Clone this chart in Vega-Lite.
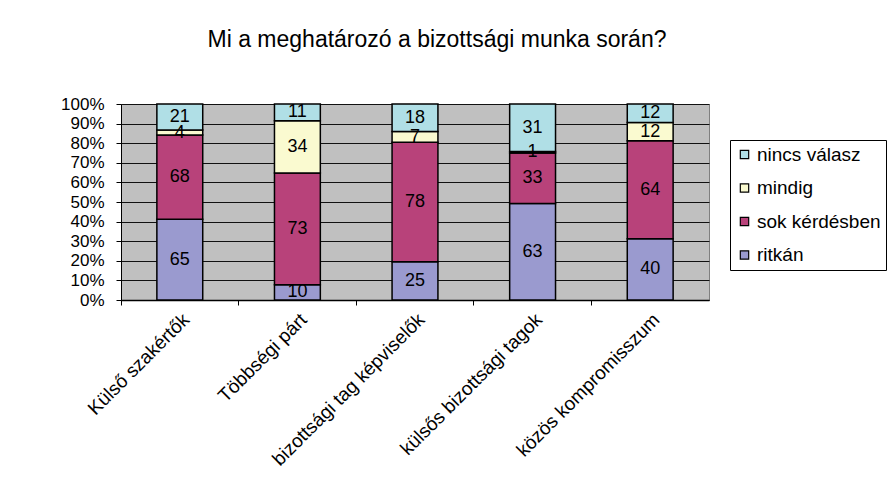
{
  "$schema": "https://vega.github.io/schema/vega-lite/v6.json",
  "width": 588,
  "height": 196,
  "autosize": {"type": "none"},
  "padding": {"left": 121, "top": 104, "right": 178, "bottom": 192},
  "background": "white",
  "title": {
    "text": "Mi a meghatározó a bizottsági munka során?",
    "font": "Liberation Sans",
    "fontSize": 23,
    "fontWeight": "normal",
    "color": "black",
    "anchor": "middle",
    "dx": 22,
    "offset": 43
  },
  "data": {
    "values": [
      {"kategoria": "Külső szakértők", "valasz": "ritkán", "ertek": 65, "o": 1},
      {"kategoria": "Külső szakértők", "valasz": "sok kérdésben", "ertek": 68, "o": 2},
      {"kategoria": "Külső szakértők", "valasz": "mindig", "ertek": 4, "o": 3},
      {"kategoria": "Külső szakértők", "valasz": "nincs válasz", "ertek": 21, "o": 4},
      {"kategoria": "Többségi párt", "valasz": "ritkán", "ertek": 10, "o": 1},
      {"kategoria": "Többségi párt", "valasz": "sok kérdésben", "ertek": 73, "o": 2},
      {"kategoria": "Többségi párt", "valasz": "mindig", "ertek": 34, "o": 3},
      {"kategoria": "Többségi párt", "valasz": "nincs válasz", "ertek": 11, "o": 4},
      {"kategoria": "bizottsági tag képviselők", "valasz": "ritkán", "ertek": 25, "o": 1},
      {"kategoria": "bizottsági tag képviselők", "valasz": "sok kérdésben", "ertek": 78, "o": 2},
      {"kategoria": "bizottsági tag képviselők", "valasz": "mindig", "ertek": 7, "o": 3},
      {"kategoria": "bizottsági tag képviselők", "valasz": "nincs válasz", "ertek": 18, "o": 4},
      {"kategoria": "külsős bizottsági tagok", "valasz": "ritkán", "ertek": 63, "o": 1},
      {"kategoria": "külsős bizottsági tagok", "valasz": "sok kérdésben", "ertek": 33, "o": 2},
      {"kategoria": "külsős bizottsági tagok", "valasz": "mindig", "ertek": 1, "o": 3},
      {"kategoria": "külsős bizottsági tagok", "valasz": "nincs válasz", "ertek": 31, "o": 4},
      {"kategoria": "közös kompromisszum", "valasz": "ritkán", "ertek": 40, "o": 1},
      {"kategoria": "közös kompromisszum", "valasz": "sok kérdésben", "ertek": 64, "o": 2},
      {"kategoria": "közös kompromisszum", "valasz": "mindig", "ertek": 12, "o": 3},
      {"kategoria": "közös kompromisszum", "valasz": "nincs válasz", "ertek": 12, "o": 4}
    ]
  },
  "config": {
    "font": "Liberation Sans",
    "view": {"fill": "#C0C0C0", "stroke": "#808080", "strokeWidth": 1}
  },
  "encoding": {
    "x": {
      "field": "kategoria",
      "type": "nominal",
      "sort": null,
      "scale": {"paddingInner": 0.61, "paddingOuter": 0.305},
      "axis": {
        "title": null,
        "bandPosition": -0.782,
        "labelAngle": -45,
        "labelAlign": "right",
        "labelBaseline": "top",
        "labelFontSize": 19,
        "labelColor": "black",
        "labelPadding": 5,
        "labelOverlap": false,
        "labelLimit": 400,
        "ticks": true,
        "tickSize": 5,
        "tickColor": "black",
        "domainColor": "black",
        "domainWidth": 1.5,
        "grid": false
      }
    },
    "y": {
      "field": "ertek",
      "type": "quantitative",
      "title": null,
      "scale": {"domain": [0, 1]},
      "axis": {
        "title": null,
        "values": [0, 0.1, 0.2, 0.3, 0.4, 0.5, 0.6, 0.7, 0.8, 0.9, 1],
        "format": ".0%",
        "labelFontSize": 17,
        "labelColor": "black",
        "labelPadding": 12,
        "labelOverlap": false,
        "labelBound": false,
        "tickSize": 5,
        "tickColor": "black",
        "domainColor": "black",
        "grid": true,
        "gridColor": "#111111",
        "gridWidth": 1
      }
    }
  },
  "layer": [
    {
      "mark": {"type": "bar", "stroke": "black", "strokeWidth": 1.5},
      "encoding": {
        "y": {"field": "ertek", "type": "quantitative", "stack": "normalize"},
        "color": {
          "field": "valasz",
          "type": "nominal",
          "scale": {
            "domain": ["nincs válasz", "mindig", "sok kérdésben", "ritkán"],
            "range": ["#B0DFE6", "#FAFAD0", "#B8427A", "#9A9ACF"]
          },
          "legend": {
            "title": null,
            "orient": "none",
            "legendX": 609,
            "legendY": 36,
            "symbolType": "square",
            "symbolSize": 70,
            "symbolStrokeColor": "black",
            "symbolStrokeWidth": 1.2,
            "symbolOpacity": 1,
            "labelFontSize": 19,
            "labelColor": "black",
            "labelOffset": 3,
            "labelLimit": 200,
            "rowPadding": 13.5,
            "strokeColor": "black",
            "fillColor": "white",
            "padding": 5
          }
        },
        "order": {"field": "o", "type": "quantitative"}
      }
    },
    {
      "transform": [
        {
          "stack": "ertek",
          "groupby": ["kategoria"],
          "sort": [{"field": "o", "order": "ascending"}],
          "offset": "normalize",
          "as": ["y0", "y1"]
        },
        {"calculate": "(datum.y0 + datum.y1) / 2", "as": "mid"}
      ],
      "mark": {"type": "text", "fontSize": 18, "color": "black", "baseline": "middle", "align": "center"},
      "encoding": {
        "y": {"field": "mid", "type": "quantitative"},
        "text": {"field": "ertek", "type": "quantitative"}
      }
    }
  ]
}
